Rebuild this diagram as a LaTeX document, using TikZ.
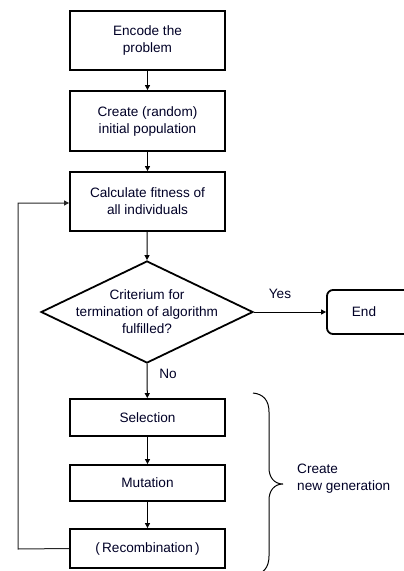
\documentclass[tikz,border=0pt]{standalone}
\usepackage{fontspec}
\setmainfont{Liberation Sans}
\usetikzlibrary{arrows.meta,shapes.geometric}
\begin{document}
\begin{tikzpicture}[x=1pt,y=-1pt,
  every node/.style={font=\fontsize{13.6}{17}\selectfont, text=black!85!blue},
  stepbox/.style={draw, line width=1.8pt, minimum width=155pt, align=center, inner sep=0pt},
  conn/.style={line width=1pt, -{Triangle[length=5pt,width=5pt]}},
  lbl/.style={inner sep=0pt}]
\useasboundingbox (0,0) rectangle (404,571);
\node[stepbox, minimum height=59pt] (enc) at (147.5,40.5) {Encode the\\problem};
\node[stepbox, minimum height=60pt] (pop) at (147.5,121) {Create (random)\\initial population};
\node[stepbox, minimum height=59pt] (fit) at (147.5,201.5) {Calculate fitness of\\all individuals};
\node[diamond, draw, line width=1.8pt, minimum width=212pt, minimum height=102pt, inner sep=0pt] (dec) at (147,312) {};
\node[align=center, lbl] (dectext) at (147,312) {Criterium for\\termination of algorithm\\fulfilled?};
\node[draw, line width=1.8pt, rounded corners=6pt, minimum width=83pt, minimum height=44pt] (end) at (368.5,312) {};
\node[lbl] (endtext) at (364,312) {End};
\node[stepbox, minimum height=37pt] (sel) at (147.5,417.5) {Selection};
\node[stepbox, minimum height=36pt] (mut) at (147.5,483) {Mutation};
\node[stepbox, minimum height=39pt] (rec) at (147.5,548.5) {(\,Recombination\,)};
\coordinate (loopA) at (18,549);
\coordinate (loopB) at (18,203);
\coordinate (fitin) at (fit.west |- loopB);
\draw[conn] (enc) -- (pop);
\draw[conn] (pop) -- (fit);
\draw[conn] (fit) -- (dec.north);
\draw[conn] (dec.east) -- (end.west);
\draw[conn] (dec.south) -- (sel);
\draw[conn] (sel) -- (mut);
\draw[conn] (mut) -- (rec);
\draw[conn, draw=black!85] (rec.west) -- (loopA) -- (loopB) -- (fitin);
\node[lbl] (yes) at (280,294) {Yes};
\node[lbl] (no) at (168,374) {No};
% brace
\coordinate (brtop) at (253,393);
\coordinate (brtip) at (283,484);
\coordinate (brbot) at (253,575);
\draw[line width=1pt] (brtop) .. controls (263,394) and (269,400) .. (269,412)
  -- (269,468) .. controls (269,477) and (274,484) .. (brtip)
  .. controls (274,484) and (269,491) .. (269,500)
  -- (269,556) .. controls (269,568) and (263,574) .. (brbot);
\node[align=left, anchor=west, lbl] (gen) at (297,478.5) {Create\\new generation};
\end{tikzpicture}
\end{document}
